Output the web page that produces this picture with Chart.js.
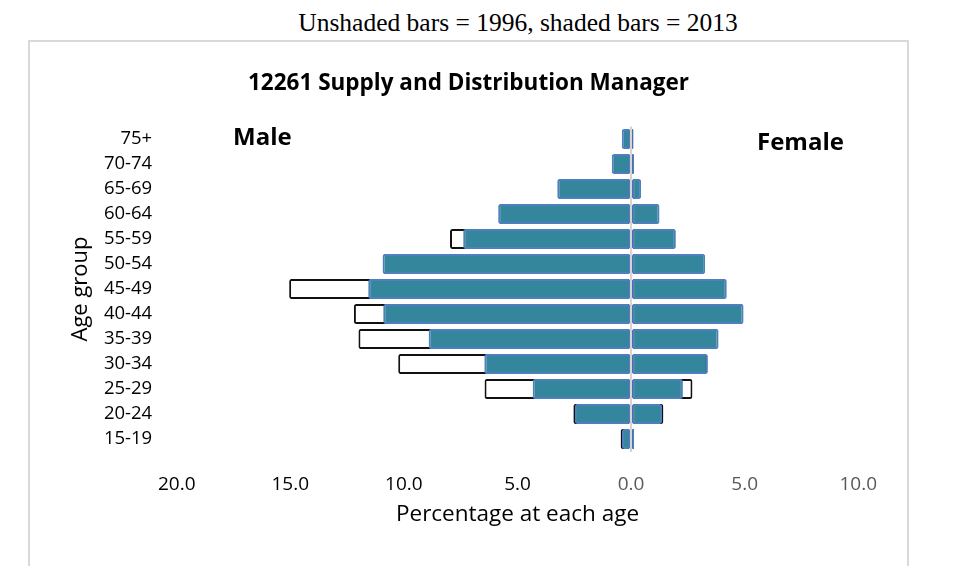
<!DOCTYPE html>
<html>
<head>
<meta charset="utf-8">
<script src="https://cdn.jsdelivr.net/npm/chart.js@4.4.1/dist/chart.umd.min.js"></script>
<style>
  html, body { margin: 0; padding: 0; background: #fff; }
  body { width: 963px; height: 566px; position: relative; overflow: hidden; }
  #caption { position: absolute; left: 0; top: 10px; width: 1036px; text-align: center; font: 25.5px/25.5px 'Liberation Serif', serif; color: #000; }
  #frame { position: absolute; left: 28px; top: 40px; width: 877px; height: 600px; border: 2px solid #d9d9d9; }
  #wrap { position: absolute; left: 30px; top: 42px; width: 877px; height: 524px; }
  .side { position: absolute; font: bold 24px/24px 'Open Sans', sans-serif; color: #000; white-space: nowrap; }
  #male { left: 233px; top: 124px; height: 21px; overflow: hidden; }
  #female { left: 757px; top: 129px; }
</style>
</head>
<body>
<div id="caption">Unshaded bars = 1996, shaded bars = 2013</div>
<div id="frame"></div>
<div id="wrap"><canvas id="chart-pyramid" width="877" height="524"></canvas></div>
<div class="side" id="male">Male</div>
<div class="side" id="female">Female</div>
<script>
// age groups top to bottom, values are % of workers at each age
const ageGroups = ['75+', '70-74', '65-69', '60-64', '55-59', '50-54', '45-49', '40-44', '35-39', '30-34', '25-29', '20-24', '15-19'];
const male2013 = [0.41, 0.85, 3.25, 5.85, 7.39, 10.94, 11.57, 10.91, 8.91, 6.46, 4.33, 2.47, 0.40];
const female2013 = [0.10, 0.13, 0.44, 1.25, 1.97, 3.26, 4.21, 4.95, 3.85, 3.38, 2.28, 1.36, 0.13];
const male1996 = [0.30, 0.60, 2.50, 5.00, 7.97, 9.60, 15.05, 12.20, 12.00, 10.25, 6.45, 2.54, 0.46];
const female1996 = [0.10, 0.10, 0.30, 0.80, 0.80, 2.10, 2.60, 3.40, 3.50, 3.30, 2.70, 1.42, 0.13];

const SHADE = '#33869c';
const SHADE_EDGE = '#4f7fbe';
const FONT = "'Open Sans', sans-serif";

const ctx = document.getElementById('chart-pyramid').getContext('2d');

// 2013 (order 0) is drawn over the 1996 outlines (order 1)
new Chart(ctx, {
  type: 'bar',
  data: {
    labels: ageGroups,
    datasets: [
      { label: 'Male 2013', data: male2013.map((v) => -v), backgroundColor: SHADE, borderColor: SHADE_EDGE, borderWidth: 2, order: 0 },
      { label: 'Female 2013', data: female2013, backgroundColor: SHADE, borderColor: SHADE_EDGE, borderWidth: 2, order: 0 },
      { label: 'Male 1996', data: male1996.map((v) => -v), backgroundColor: '#fff', borderColor: '#111', borderWidth: 2, order: 1 },
      { label: 'Female 1996', data: female1996, backgroundColor: '#fff', borderColor: '#111', borderWidth: 2, order: 1 }
    ]
  },
  options: {
    indexAxis: 'y',
    responsive: false,
    animation: false,
    // equal side padding keeps the title centred in the frame
    layout: { padding: { left: 48.7, right: 48.7, top: 0, bottom: 37.5 } },
    datasets: { bar: { grouped: false, categoryPercentage: 0.8, barPercentage: 1, borderSkipped: false, borderRadius: 2 } },
    plugins: {
      legend: { display: false },
      tooltip: { enabled: false },
      title: {
        display: true,
        text: '12261 Supply and Distribution Manager',
        color: '#000',
        font: { family: FONT, size: 22.5, weight: 'bold' },
        padding: { top: 28, bottom: 29.5 }
      }
    },
    scales: {
      x: {
        min: -20,
        max: 10,
        ticks: {
          stepSize: 5,
          padding: 21.7,
          callback: (v) => Math.abs(v).toFixed(1),
          color: (c) => (c.tick && c.tick.value < 0 ? '#000' : '#595959'),
          font: { family: FONT, size: 19 }
        },
        grid: {
          color: (c) => (c.tick && c.tick.value === 0 ? '#d4d4d4' : 'rgba(0,0,0,0)'),
          lineWidth: 2,
          drawTicks: false,
          z: 1
        },
        border: { display: false },
        title: {
          display: true,
          text: 'Percentage at each age',
          color: '#000',
          font: { family: FONT, size: 22.5 },
          padding: { top: 0, bottom: 0 }
        },
        afterFit: (scale) => { scale.height = 77; }
      },
      y: {
        grid: { display: false, drawTicks: false },
        border: { display: false },
        ticks: { autoSkip: false, padding: 24.5, color: '#000', font: { family: FONT, size: 18.5 } },
        title: {
          display: true,
          text: 'Age group',
          color: '#000',
          font: { family: FONT, size: 22 },
          padding: { top: -10.9, bottom: 0 }
        },
        afterFit: (scale) => { scale.width = 98; }
      }
    }
  }
});
</script>
</body>
</html>
